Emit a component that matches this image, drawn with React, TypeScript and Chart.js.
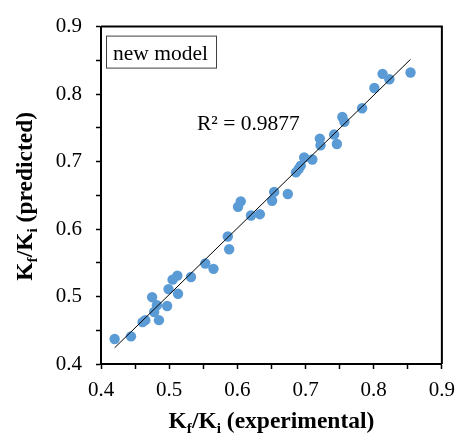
import React, { useEffect, useRef } from "react";
import { Chart, registerables } from "chart.js";

Chart.register(...registerables);

// Experimental K_f/K_i values (x)
const experimental = [
  0.420, 0.444, 0.461, 0.465, 0.475, 0.478, 0.482, 0.485, 0.497, 0.499,
  0.505, 0.512, 0.513, 0.532, 0.553, 0.565, 0.586, 0.588, 0.601, 0.605,
  0.620, 0.633, 0.651, 0.654, 0.674, 0.686, 0.690, 0.693, 0.698, 0.710,
  0.721, 0.722, 0.742, 0.746, 0.754, 0.757, 0.783, 0.801, 0.813, 0.823,
  0.854,
];
// Predicted K_f/K_i values (y)
const predicted = [
  0.437, 0.441, 0.462, 0.465, 0.499, 0.477, 0.487, 0.465, 0.486, 0.511,
  0.525, 0.531, 0.504, 0.529, 0.549, 0.541, 0.589, 0.570, 0.633, 0.641,
  0.620, 0.622, 0.642, 0.655, 0.652, 0.684, 0.689, 0.694, 0.706, 0.703,
  0.734, 0.724, 0.740, 0.726, 0.766, 0.759, 0.779, 0.809, 0.830, 0.822,
  0.832,
];
const xTickLabels = ["0.4", "0.5", "0.6", "0.7", "0.8", "0.9"];
const yTickLabels = ["0.4", "0.5", "0.6", "0.7", "0.8", "0.9"];
const boxLabel = "new model";
const r2Label = "R\u00B2 = 0.9877";

function fit(xs: number[], ys: number[]) {
  const n = xs.length;
  const mx = xs.reduce((a, b) => a + b, 0) / n;
  const my = ys.reduce((a, b) => a + b, 0) / n;
  let sxy = 0, sxx = 0;
  for (let i = 0; i < n; i++) {
    sxy += (xs[i] - mx) * (ys[i] - my);
    sxx += (xs[i] - mx) * (xs[i] - mx);
  }
  const b = sxy / sxx;
  const a = my - b * mx;
  const x0 = Math.min(...xs), x1 = Math.max(...xs);
  return [{ x: x0, y: a + b * x0 }, { x: x1, y: a + b * x1 }];
}

const SERIF = "'Liberation Serif', 'Times New Roman', serif";

function drawSubTitle(ctx: CanvasRenderingContext2D, parts: [string, boolean][], size: number) {
  // measure
  const subSize = size * 0.65;
  let w = 0;
  for (const [t, sub] of parts) {
    ctx.font = `bold ${sub ? subSize : size}px ${SERIF}`;
    w += ctx.measureText(t).width;
  }
  let x = -w / 2;
  for (const [t, sub] of parts) {
    ctx.font = `bold ${sub ? subSize : size}px ${SERIF}`;
    ctx.fillText(t, x, sub ? size * 0.22 : 0);
    x += ctx.measureText(t).width;
  }
}

const decorPlugin = {
  id: "decor",
  afterDraw(chart: any) {
    const { ctx, chartArea } = chart;
    const { left, right, top, bottom } = chartArea;
    ctx.save();
    // frame top and right
    ctx.strokeStyle = "#000";
    ctx.lineWidth = 2;
    ctx.beginPath();
    ctx.moveTo(left, top);
    ctx.lineTo(right, top);
    ctx.lineTo(right, bottom);
    ctx.stroke();

    // label box
    ctx.strokeStyle = "#404040";
    ctx.lineWidth = 1;
    ctx.strokeRect(left + 5.5, top + 9.5, 110, 32);
    ctx.fillStyle = "#000";
    ctx.font = `21.5px ${SERIF}`;
    ctx.textBaseline = "alphabetic";
    ctx.textAlign = "left";
    ctx.fillText(boxLabel, left + 12, top + 33);

    // R² text
    ctx.fillText(r2Label, left + 96, top + 103);

    // x title
    ctx.textAlign = "left";
    ctx.save();
    ctx.translate((left + right) / 2, 428);
    drawSubTitle(ctx, [["K", false], ["f", true], ["/K", false], ["i", true], [" (experimental)", false]], 23.5);
    ctx.restore();

    // y title
    ctx.save();
    ctx.translate(31.5, (top + bottom) / 2 + 1);
    ctx.rotate(-Math.PI / 2);
    drawSubTitle(ctx, [["K", false], ["f", true], ["/K", false], ["i", true], [" (predicted)", false]], 23.5);
    ctx.restore();
    ctx.restore();
  },
};

export default function App() {
  const ref = useRef<HTMLCanvasElement | null>(null);
  useEffect(() => {
    if (!ref.current) return;
    const points = experimental.map((x, i) => ({ x, y: predicted[i] }));
    const trend = fit(experimental, predicted);
    const tickCb = (labels: string[]) => (v: any) => {
      const n = Number(v);
      const l = n.toFixed(1);
      return Math.abs(n * 10 - Math.round(n * 10)) < 1e-6 && labels.includes(l) ? l : "";
    };
    const chart = new Chart(ref.current, {
      type: "scatter",
      data: {
        datasets: [
          {
            type: "line",
            data: trend,
            borderColor: "#000",
            borderWidth: 1,
            pointRadius: 0,
            fill: false,
          } as any,
          {
            data: points,
            backgroundColor: "#5B9BD5",
            borderWidth: 0,
            pointRadius: 5.2,
            pointHoverRadius: 5.2,
          },
        ],
      },
      plugins: [decorPlugin],
      options: {
        animation: false,
        responsive: false,
        devicePixelRatio: 1,
        layout: { padding: { top: 17, right: 15, left: 0, bottom: 0 } },
        plugins: { legend: { display: false }, tooltip: { enabled: false } },
        scales: {
          x: {
            type: "linear",
            min: 0.4,
            max: 0.9,
            afterFit: (s: any) => { s.height = 76; },
            ticks: {
              stepSize: 0.05,
              autoSkip: false,
              maxRotation: 0,
              padding: 9,
              color: "#000",
              font: { family: SERIF, size: 21 },
              callback: tickCb(xTickLabels),
            },
            grid: { display: true, drawOnChartArea: false, drawTicks: true, tickLength: 5, tickWidth: 1.5, tickColor: "#000" },
            border: { display: true, color: "#000", width: 2 },
          },
          y: {
            type: "linear",
            min: 0.4,
            max: 0.9,
            afterFit: (s: any) => { s.width = 101; },
            ticks: {
              stepSize: 0.05,
              autoSkip: false,
              padding: 14,
              color: "#000",
              font: { family: SERIF, size: 21 },
              callback: tickCb(yTickLabels),
            },
            grid: { display: true, drawOnChartArea: false, drawTicks: true, tickLength: 5, tickWidth: 1.5, tickColor: "#000" },
            border: { display: true, color: "#000", width: 2 },
          },
        },
      },
    });
    return () => chart.destroy();
  }, []);
  return (
    <div style={{ position: "fixed", left: 0, top: 0, width: 464, height: 440, background: "#fff" }}>
      <canvas ref={ref} width={464} height={440} style={{ display: "block" }} />
    </div>
  );
}
